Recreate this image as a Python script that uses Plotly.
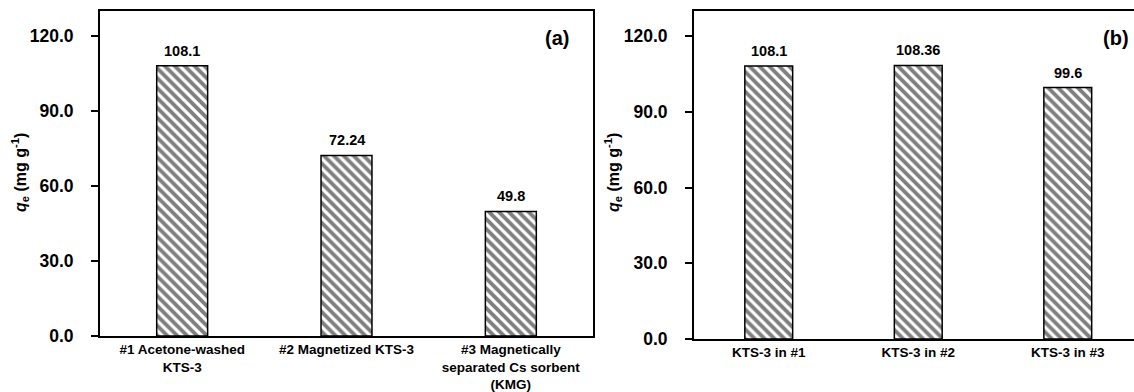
import plotly.graph_objects as go

# ---- data ----
cats_a = ["#1 Acetone-washed<br>KTS-3", "#2 Magnetized KTS-3",
          "#3 Magnetically<br>separated Cs sorbent<br>(KMG)"]
vals_a = [108.1, 72.24, 49.8]
labels_a = ["108.1", "72.24", "49.8"]

cats_b = ["KTS-3 in #1", "KTS-3 in #2", "KTS-3 in #3"]
vals_b = [108.1, 108.36, 99.6]
labels_b = ["108.1", "108.36", "99.6"]

y_ticks = [0, 30, 60, 90, 120]
y_tick_text = ["0.0", "30.0", "60.0", "90.0", "120.0"]

W, H = 1134, 392
FONT = "Liberation Sans, Arial, sans-serif"


def px(x):
    return x / W


def py(y):
    return 1 - y / H


fig = go.Figure()

pattern = dict(shape="\\", size=7, solidity=0.55, fgcolor="black", bgcolor="white")

fig.add_trace(go.Bar(
    x=cats_a, y=vals_a, cliponaxis=False,
    width=0.31, marker=dict(color="white", pattern=pattern, line=dict(color="black", width=1.5)),
    xaxis="x", yaxis="y", showlegend=False))

fig.add_trace(go.Bar(
    x=cats_b, y=vals_b, cliponaxis=False,
    width=0.32, marker=dict(color="white", pattern=pattern, line=dict(color="black", width=1.5)),
    xaxis="x2", yaxis="y2", showlegend=False))

for cats, vals, labs, xr, yr in ((cats_a, vals_a, labels_a, "x", "y"),
                                 (cats_b, vals_b, labels_b, "x2", "y2")):
    for c, v, t in zip(cats, vals, labs):
        fig.add_annotation(text=t, x=c, y=v, xref=xr, yref=yr, showarrow=False,
                           xanchor="center", yanchor="bottom", yshift=5,
                           font=dict(family=FONT, size=14.5, color="black", weight="bold"))

xcommon = dict(showgrid=False, showline=True, linecolor="black", linewidth=2,
               ticks="", tickfont=dict(family=FONT, size=13.5, color="black", weight="bold"),
               zeroline=False, fixedrange=True, automargin=False)
ycommon = dict(showgrid=False, showline=True, linecolor="black", linewidth=2,
               ticks="outside", ticklen=7, tickwidth=1.5, tickcolor="black",
               tickvals=y_ticks, ticktext=y_tick_text, range=[0, 130],
               tickfont=dict(family=FONT, size=17.5, color="black", weight="bold"),
               zeroline=False, ticklabelstandoff=14, fixedrange=True, automargin=False)

fig.update_layout(
    width=W, height=H, margin=dict(l=0, r=0, t=0, b=0, autoexpand=False),
    paper_bgcolor="white", plot_bgcolor="white", hovermode=False,
    xaxis=dict(domain=[px(100), px(593)], anchor="y", mirror=True,
               range=[-0.5, 2.5], **xcommon),
    yaxis=dict(domain=[py(336), py(11)], anchor="x", mirror=True, **ycommon),
    xaxis2=dict(domain=[px(694), 1.0], anchor="y2", mirror=True,
                range=[-0.5, 2.443], **xcommon),
    yaxis2=dict(domain=[py(339), py(10.75)], anchor="x2", mirror=False, **ycommon),
)

title_txt = "<i>q</i><sub>e</sub> (mg g<sup>-1</sup>)"
for xc in (20, 613):
    fig.add_annotation(text=title_txt, x=px(xc), y=py(173), xref="paper", yref="paper",
                       textangle=-90, showarrow=False, xanchor="center", yanchor="middle",
                       font=dict(family=FONT, size=16, color="black", weight="bold"))

for txt, xc in (("(a)", 557), ("(b)", 1116)):
    fig.add_annotation(text=txt, x=px(xc), y=py(38), xref="paper", yref="paper",
                       showarrow=False, xanchor="center", yanchor="middle",
                       font=dict(family=FONT, size=20, color="black", weight="bold"))

fig.write_html("out.html", config={"displayModeBar": False},
               post_script="document.body.style.margin='0';document.body.style.overflow='hidden';")
